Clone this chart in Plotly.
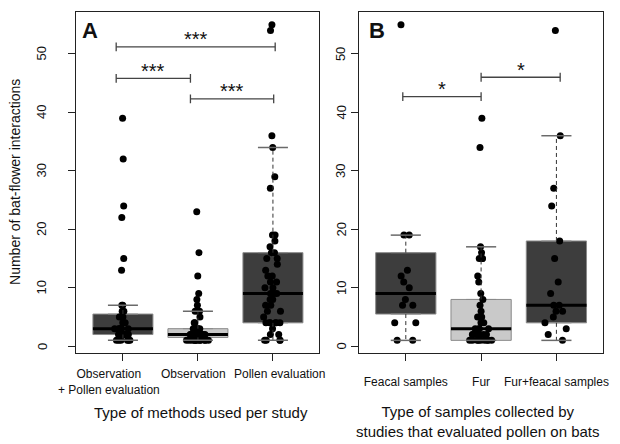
import plotly.graph_objects as go

# ---------------- data ----------------
cats_A = ["Observation<br>+ Pollen evaluation", "Observation", "Pollen evaluation"]
cats_B = ["Feacal samples", "Fur", "Fur+feacal samples"]
y_ticks = [0, 10, 20, 30, 40, 50]

# Panel A: interactions per study by method
obs_pollen = [1, 1, 1, 1, 1, 1, 2, 2, 2, 2, 2, 2, 2, 3, 3, 3, 3, 3, 3,
              4, 4, 4, 5, 5, 5, 6, 6, 7, 7, 13, 15, 22, 24, 32, 39]
observation = [1] * 12 + [2] * 10 + [3] * 6 + [4, 4, 5, 6, 6, 6, 7, 8, 9, 12, 16, 23]
pollen_eval = [1, 1, 1, 1, 2, 2, 3, 4, 4, 4, 4, 4, 4, 5, 6, 6, 7, 7, 8, 8, 9, 9, 9,
               10, 10, 11, 11, 12, 12, 13, 14, 15, 15, 16, 16, 17, 18, 19, 19,
               27, 29, 34, 36, 54, 55]

# Panel B: interactions per study by sample type
feacal = [1, 1, 4, 4, 7, 7, 8, 10, 11, 12, 13, 19, 19, 55]
fur = [1] * 9 + [2] * 6 + [3] * 4 + [4, 4, 5, 5, 5, 6, 7, 8, 9, 11, 12, 15, 15, 15, 16, 17, 34, 39]
fur_feacal = [1, 2, 3, 4, 5, 6, 6, 7, 7, 9, 11, 15, 18, 24, 27, 36, 54]

# box statistics as drawn (hinges / whisker ends)
A_q1 = [2, 1.5, 4]
A_med = [3, 2, 9]
A_q3 = [5.5, 3, 16]
A_lo = [1, 1, 1]
A_hi = [7, 6, 34]

B_q1 = [5.5, 1, 4]
B_med = [9, 3, 7]
B_q3 = [16, 8, 18]
B_lo = [1, 1, 1]
B_hi = [19, 17, 36]

# significance comparisons: (from, to, height, label)
sig_A = [(0.91, 3.03, 51.2, "***"), (0.91, 1.9, 45.8, "***"), (1.9, 3.01, 42.3, "***")]
sig_B = [(0.96, 2.0, 42.7, "*"), (2.0, 3.05, 46.0, "*")]

# ---------------- styling ----------------
DARK = "#3d3d3d"
LIGHT = "#c9c9c9"
FONT = "Liberation Sans, Arial, sans-serif"
TXT = "#111111"
positions = [1, 2, 3]
label_centers_A = [110, 195, 282]   # page x of panel-A category labels (as laid out in the original)

# the page body adds an 8px margin; the figure fills the rest of the 620x444 window
W, H, OFF = 612, 436, 8


def px(xp):
    return (xp - OFF) / W


def py(yp):
    return 1 - (yp - OFF) / H


fig = go.Figure()


def add_panel(xa, ya, samples, q1, med, q3, lo, hi, fills, sigs):
    for p, a, m, b, f in zip(positions, q1, med, q3, fills):
        fig.add_trace(go.Box(x=[p], q1=[a], median=[m], q3=[b], lowerfence=[a], upperfence=[b],
                             width=0.8, fillcolor=f, line=dict(color="#8a8a8a", width=1),
                             boxpoints=False, showlegend=False, xaxis=xa, yaxis=ya, hoverinfo="skip"))
    wx, wy = [], []
    for p, a, b, l, h in zip(positions, q1, q3, lo, hi):
        wx += [p, p, None, p, p, None]
        wy += [b, h, None, a, l, None]
    fig.add_trace(go.Scatter(x=wx, y=wy, mode="lines", line=dict(color="#333333", width=1, dash="4px,3px"),
                             showlegend=False, xaxis=xa, yaxis=ya, hoverinfo="skip"))
    cx, cy = [], []
    for p, l, h in zip(positions, lo, hi):
        cx += [p - 0.2, p + 0.2, None, p - 0.2, p + 0.2, None]
        cy += [h, h, None, l, l, None]
    fig.add_trace(go.Scatter(x=cx, y=cy, mode="lines", line=dict(color="#6a6a6a", width=1.5),
                             showlegend=False, xaxis=xa, yaxis=ya, hoverinfo="skip"))
    mx, my = [], []
    for p, m in zip(positions, med):
        mx += [p - 0.4, p + 0.4, None]
        my += [m, m, None]
    fig.add_trace(go.Scatter(x=mx, y=my, mode="lines", line=dict(color="black", width=3),
                             showlegend=False, xaxis=xa, yaxis=ya, hoverinfo="skip"))
    for p, vals in zip(positions, samples):
        fig.add_trace(go.Box(x=[p] * len(vals), y=vals, width=0.8, boxpoints="all", jitter=0.45,
                             pointpos=0, fillcolor="rgba(0,0,0,0)",
                             line=dict(color="rgba(0,0,0,0)", width=0),
                             marker=dict(color="black", size=7),
                             showlegend=False, xaxis=xa, yaxis=ya))
    for x0, x1, y, lab in sigs:
        fig.add_trace(go.Scatter(x=[x0, x0, None, x0, x1, None, x1, x1],
                                 y=[y - 0.75, y + 0.75, None, y, y, None, y - 0.75, y + 0.75],
                                 mode="lines", line=dict(color="#444444", width=1.3),
                                 showlegend=False, xaxis=xa, yaxis=ya, hoverinfo="skip"))
        fig.add_annotation(x=(x0 + x1) / 2, y=y - 0.9, xref=xa, yref=ya, text=lab, showarrow=False,
                           xanchor="center", yanchor="bottom",
                           font=dict(size=20, color="#111111", family=FONT))


add_panel("x", "y", [obs_pollen, observation, pollen_eval], A_q1, A_med, A_q3, A_lo, A_hi,
          [DARK, LIGHT, DARK], sig_A)
add_panel("x2", "y2", [feacal, fur, fur_feacal], B_q1, B_med, B_q3, B_lo, B_hi,
          [DARK, LIGHT, DARK], sig_B)

axis_common = dict(showline=True, mirror=True, linecolor="#222222", linewidth=1, ticks="outside",
                   ticklen=7, tickcolor="#222222", showgrid=False, zeroline=False,
                   tickfont=dict(size=12, color=TXT, family=FONT))

fig.update_layout(
    width=W, height=H, margin=dict(l=0, r=0, t=0, b=0),
    paper_bgcolor="white", plot_bgcolor="white", boxmode="overlay",
    font=dict(family=FONT, color=TXT),
    xaxis=dict(domain=[px(77), px(322)], range=[0.38, 3.62], tickvals=positions,
               showticklabels=False, anchor="y", **axis_common),
    yaxis=dict(domain=[py(353), py(12)], range=[-1.16, 57.16], tickvals=y_ticks,
               showticklabels=False, anchor="x", **axis_common),
    xaxis2=dict(domain=[px(362), px(608)], range=[0.38, 3.62], tickvals=positions, ticktext=cats_B,
                tickangle=0, anchor="y2", ticklabelstandoff=11, **axis_common),
    yaxis2=dict(domain=[py(353), py(12)], range=[-1.16, 57.16], tickvals=y_ticks,
                showticklabels=False, anchor="x2", **axis_common),
)

# panel-A category labels, placed as in the original layout
for lab, xc in zip(cats_A, label_centers_A):
    fig.add_annotation(x=px(xc), y=py(365), xref="paper", yref="paper", text=lab, showarrow=False,
                       xanchor="center", yanchor="top", font=dict(size=12, family=FONT, color=TXT))

# rotated y tick labels (R style, parallel to the axis)
for v in y_ticks:
    for yref, xpage in (("y", 42), ("y2", 344)):
        fig.add_annotation(x=px(xpage), y=v, xref="paper", yref=yref, text=str(v), textangle=-90,
                           showarrow=False, xanchor="center", yanchor="middle",
                           font=dict(size=13, family=FONT, color=TXT))

fig.add_annotation(x=px(15), y=py(182), xref="paper", yref="paper", showarrow=False,
                   xanchor="center", yanchor="middle",
                   text="Number of bat-flower interactions", textangle=-90,
                   font=dict(size=14, family=FONT, color=TXT))
fig.add_annotation(x=px(203), y=py(412), xref="paper", yref="paper", showarrow=False,
                   xanchor="center", yanchor="middle",
                   text="Type of methods used per study", font=dict(size=15, family=FONT, color=TXT))
fig.add_annotation(x=px(482), y=py(421), xref="paper", yref="paper", showarrow=False,
                   xanchor="center", yanchor="middle",
                   text="Type of samples collected by<br>studies that evaluated pollen on bats",
                   font=dict(size=15, family=FONT, color=TXT))
fig.add_annotation(x=px(91), y=py(30), xref="paper", yref="paper", showarrow=False,
                   xanchor="center", yanchor="middle",
                   text="<b>A</b>", font=dict(size=22, family=FONT, color=TXT))
fig.add_annotation(x=px(380), y=py(30), xref="paper", yref="paper", showarrow=False,
                   xanchor="center", yanchor="middle",
                   text="<b>B</b>", font=dict(size=22, family=FONT, color=TXT))

fig.write_html("out.html")
